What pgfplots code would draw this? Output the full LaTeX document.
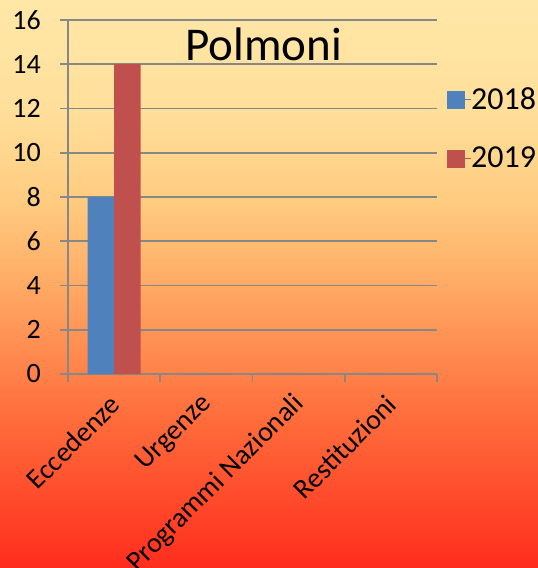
\documentclass[border=0pt]{standalone}
\usepackage{pgfplots}
\pgfplotsset{compat=1.18}
\usepackage{fontspec}
\setmainfont{Carlito}
\definecolor{c2018}{HTML}{4F81BD}
\definecolor{c2019}{HTML}{C0504D}
\definecolor{gridgray}{HTML}{878787}
\definecolor{bga}{HTML}{FFE7A8}
\definecolor{bgb}{HTML}{FFDF9A}
\definecolor{bgc}{HTML}{FFCC80}
\definecolor{bgd}{HTML}{FFAA64}
\definecolor{bge}{HTML}{FF6E3C}
\definecolor{bgf}{HTML}{FF2D1E}
\pgfdeclareverticalshading{bgshade}{100bp}{color(0bp)=(bgf); color(25bp)=(bgf); color(38.5bp)=(bge); color(49.9bp)=(bgd); color(57.4bp)=(bgc); color(65.3bp)=(bgb); color(75bp)=(bga); color(100bp)=(bga)}
\begin{document}
\begin{tikzpicture}
\path[use as bounding box] (0,0) rectangle (538pt,568pt);
\shade[shading=bgshade] (0,0) rectangle (538pt,568pt);
\begin{axis}[
  at={(68pt,194pt)}, anchor=south west,
  scale only axis, width=369pt, height=354pt,
  xmin=-0.5, xmax=3.5, ymin=0, ymax=16,
  ytick={0,2,...,16},
  xtick={0,1,2,3},
  xticklabels={Eccedenze,Urgenze,Programmi Nazionali,Restituzioni},
  minor xtick={-0.5,0.5,1.5,2.5,3.5},
  major x tick style={draw=none},
  tick align=outside, major tick length=8pt, minor tick length=8pt,
  axis x line*=bottom, axis y line*=left,
  axis line style={gridgray, line width=1.8pt, -},
  ymajorgrids, grid style={gridgray, line width=1.8pt},
  tick style={gridgray, line width=1.8pt},
  /pgf/number format/assume math mode=true,
  yticklabel style={font=\fontsize{28}{28}\selectfont, anchor=east, inner sep=0pt, xshift=-19pt},
  xticklabel style={font=\fontsize{28}{28}\selectfont, inner sep=0pt, xshift=1pt, yshift=-18pt, rotate=45, anchor=east},
  ybar=0pt, bar width=26.5pt,
  legend cell align=left,
  legend style={at={(rel axis cs:1,1)}, anchor=north west, xshift=10pt, yshift=-67pt,
    draw=none, fill=none, font=\fontsize{32}{32}\selectfont, inner sep=0pt, row sep=36pt,
    nodes={inner sep=0pt}},
  legend image code/.code={\fill[#1] (0pt,-10.2pt) rectangle (18pt,7.8pt); \path (0pt,0pt) rectangle (24pt,0.1pt);},
]
\addplot[fill=c2018, draw=none] coordinates {(0,8) (1,0) (2,0) (3,0)};
\addplot[fill=c2019, draw=none] coordinates {(0,14) (1,0) (2,0) (3,0)};
\legend{2018,2019}
\node[anchor=base, font=\fontsize{47}{47}\selectfont] at (axis cs:1.62,14.19) {Polmoni};
\end{axis}
\end{tikzpicture}
\end{document}
